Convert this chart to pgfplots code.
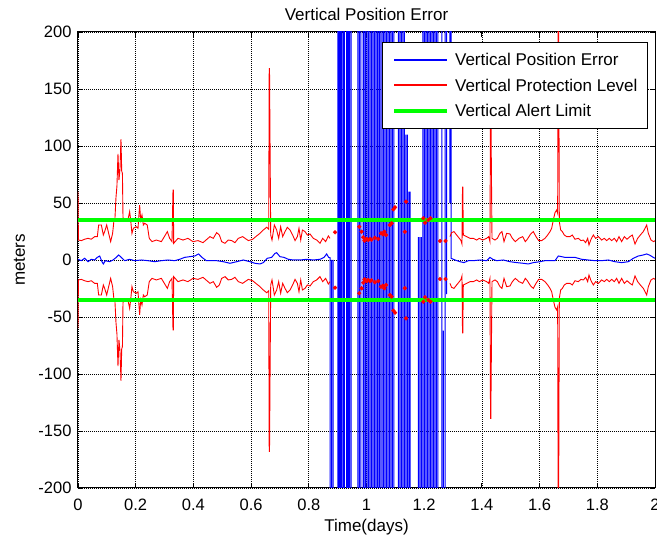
\documentclass[border=0pt]{standalone}
\usepackage{fontspec}
\setmainfont{Liberation Sans}
\usepackage{pgfplots}
\pgfplotsset{compat=1.18}
\usepackage{pgfplotstable}
\definecolor{mblue}{RGB}{0,0,255}
\definecolor{mred}{RGB}{255,0,0}
\definecolor{mgreen}{RGB}{0,255,0}

\pgfplotstableread{
x y
0 0.6
0.0116 -0.6
0.023 1.5
0.0347 -1.5
0.046 0.6
0.0578 0
0.067 2.3
0.0751 3.5
0.0832 -1.5
0.0878 -3.5
0.0947 -0.6
0.1098 -1.5
0.1213 0
0.1329 2.3
0.141 4.4
0.150 2.3
0.1618 -0.6
0.179 0.6
0.1964 -0.6
0.2195 0
0.2426 -0.6
0.2657 -1.5
0.2889 -0.6
0.312 0
0.335 -0.6
0.3524 0.6
0.3697 2.3
0.387 2.9
0.4044 3.5
0.4183 5.3
0.4298 2.3
0.4448 -0.6
0.462 -0.6
0.4806 -0.6
0.5037 -1.5
0.5268 -2.9
0.55 -1.5
0.573 0
0.5961 -1.5
0.6135 -2.9
0.6308 -3.5
0.6424 -2.3
0.6562 1.5
0.6713 2.3
0.6828 5.8
0.6886 6.4
0.7001 2.9
0.714 2.3
0.729 0.6
0.7464 0
0.7695 0
0.7926 0.6
0.8157 0
0.8388 0.6
0.8527 2.3
0.8619 5.3
0.8688 2.3
0.8735 2
0.8735 -1000
0.8787 -1000
0.8787 0
0.8787 -1000
0.8839 -1000
0.8839 0
0.8839 -1000
0.9012 -1000
0.9012 1000
0.9047 1000
0.9047 -1000
0.9081 -1000
0.9081 1000
0.9116 1000
0.9116 -1000
0.9151 -1000
0.9151 1000
0.9203 1000
0.9203 -1000
0.9237 -1000
0.9237 1000
0.9307 1000
0.9307 -1000
0.9341 -1000
0.9341 1000
0.9376 1000
0.9376 -1000
0.9411 -1000
0.9411 1000
0.9463 1000
0.9463 -1000
0.9705 -1000
0.9705 1000
0.9757 1000
0.9757 -1000
0.9809 -1000
0.9809 1000
0.9879 1000
0.9879 -1000
0.9913 -1000
0.9913 1000
0.9965 1000
0.9965 -1000
1.0017 -1000
1.0017 1000
1.0069 1000
1.0069 -1000
1.0121 -1000
1.0121 1000
1.0173 1000
1.0173 -1000
1.0225 -1000
1.0225 1000
1.0277 1000
1.0277 -1000
1.0329 -1000
1.0329 1000
1.0381 1000
1.0381 -1000
1.0433 -1000
1.0433 1000
1.0468 1000
1.0468 -1000
1.0537 -1000
1.0537 1000
1.0589 1000
1.0589 -1000
1.0641 -1000
1.0641 1000
1.0693 1000
1.0693 -1000
1.0745 -1000
1.0745 1000
1.0797 1000
1.0797 -1000
1.0849 -1000
1.0849 1000
1.0901 1000
1.0901 -1000
1.0953 -1000
1.0953 1000
1.1109 1000
1.1109 -1000
1.1161 -1000
1.1161 1000
1.1213 1000
1.1213 -1000
1.1265 -1000
1.1265 1000
1.1317 1000
1.1317 -1000
1.1369 -1000
1.1369 110
1.1369 -1000
1.1421 -1000
1.1421 110
1.1421 -1000
1.1473 -1000
1.1473 60
1.1473 -1000
1.1508 -1000
1.1508 60
1.1508 -1000
1.1802 -1000
1.1802 20
1.1802 -1000
1.1854 -1000
1.1854 20
1.1854 -1000
1.1906 -1000
1.1906 20
1.1906 -1000
1.1958 -1000
1.1958 1000
1.2010 1000
1.2010 -1000
1.2062 -1000
1.2062 1000
1.2114 1000
1.2114 -1000
1.2166 -1000
1.2166 1000
1.2218 1000
1.2218 -1000
1.2270 -1000
1.2270 1000
1.2322 1000
1.2322 -1000
1.2374 -1000
1.2374 1000
1.2426 1000
1.2426 -1000
1.2478 -1000
1.2478 1000
1.2617 1000
1.2617 -1000
1.2669 -1000
1.2669 -62
1.2669 -1000
1.2721 -1000
1.2721 1000
1.2773 1000
1.2773 -30
1.2773 1000
1.2894 1000
1.2894 50
1.2894 1000
1.2929 1000
1.2929 1.5
1.3068 0
1.3241 -1.5
1.338 -2.3
1.353 -0.6
1.3703 -0.6
1.3935 0
1.4165 -0.6
1.428 2.3
1.4374 0.6
1.4512 -0.6
1.4743 0
1.4974 -1.5
1.5205 -2.3
1.5437 -2.9
1.561 -3.5
1.5783 -2.3
1.6014 -1.5
1.6187 -0.6
1.6534 -0.6
1.665 3.5
1.688 2.3
1.7227 2.3
1.7458 0.6
1.769 0
1.792 -0.6
1.8151 -0.6
1.8383 0
1.8613 -1.5
1.8844 -2.3
1.9076 -1.5
1.9249 1.5
1.9423 3.5
1.9595 4.4
1.9711 5.3
1.9827 4.1
1.9942 2.3
2.0 1.5
}\vpe

\pgfplotstableread{
x y
0 60
0.0015 17.5
0.0116 17.0
0.023 18.2
0.0347 19.0
0.046 18.2
0.0578 20.5
0.067 20.5
0.0716 30.7
0.081 30.7
0.0878 21.9
0.0924 24.9
0.0994 30.7
0.1063 23.4
0.1132 16.1
0.120 23.4
0.1248 35.1
0.128 36
0.1317 55
0.135 65
0.1386 93
0.142 70
0.1456 80
0.149 106
0.1515 78
0.154 76
0.156 37
0.165 35.5
0.173 35
0.179 42.4
0.1826 35
0.187 23.4
0.192 27.8
0.202 29.2
0.208 27.8
0.2137 48.2
0.2172 35
0.2218 39.5
0.2265 30.7
0.231 32.2
0.240 30.7
0.247 19
0.2565 16.1
0.2715 17.5
0.289 16.1
0.3027 21.9
0.3097 24.9
0.3177 19
0.3258 16.1
0.3293 61.4
0.3305 61.4
0.3316 14.6
0.3466 19
0.364 17.5
0.381 19
0.3986 16.1
0.416 17
0.4333 15.2
0.4506 19
0.4575 20.5
0.469 19
0.4806 24
0.49 21.9
0.498 16.1
0.5096 14.6
0.521 17.5
0.5327 17
0.544 15.2
0.5558 19
0.5708 20.5
0.579 19
0.5905 17
0.6054 18.2
0.6193 21.1
0.6309 23.4
0.6424 26.3
0.654 28.7
0.661 27
0.6628 168
0.6638 168
0.668 21.9
0.6725 17.5
0.6806 30.7
0.6886 26.3
0.6956 19
0.7025 29.2
0.7095 20.5
0.7176 24.9
0.7256 28.7
0.7349 26.3
0.744 21.9
0.7523 17
0.7604 20.5
0.766 27.8
0.772 17.5
0.778 26.3
0.7869 24.9
0.795 21.9
0.8042 22.8
0.8157 19
0.8273 17.5
0.8388 14.6
0.8481 19
0.8585 16.1
0.8677 21.1
0.8735 19
}\vplA

\pgfplotstableread{
x y
1.2894 20.5
1.295 24
1.3033 24.9
1.3125 21.9
1.3218 19
1.3276 17
1.331 14
1.3328 64
1.3338 64
1.3356 21.9
1.3472 20.5
1.3588 19
1.3703 19
1.382 17.5
1.391 19
1.4027 17.5
1.4165 19
1.4234 20.5
1.428 16.1
1.4299 139
1.4309 139
1.435 19
1.4454 17.5
1.4535 19
1.4627 23.4
1.4696 24.9
1.4766 16.1
1.4858 23.4
1.4974 22.8
1.5055 19
1.5159 16.1
1.5286 19
1.5413 20.5
1.5505 16.1
1.5575 18.2
1.569 22.8
1.5783 24.9
1.5875 20.5
1.5968 17
1.6072 17
1.6187 19
1.628 21.9
1.636 24.9
1.6418 27.8
1.6476 35.1
1.6534 41.5
1.6592 43.9
1.6626 41
1.6645 250
1.6655 250
1.6684 33.6
1.673 26.3
1.6788 24.9
1.6857 21.9
1.6938 20.5
1.7054 20.5
1.7134 21.9
1.7227 18.2
1.7342 19
1.7435 17
1.7516 17.5
1.7597 15.2
1.7666 19
1.7712 13.2
1.7782 18.2
1.7862 21.9
1.7943 19
1.8036 20.5
1.8151 17.5
1.8244 19
1.8325 17
1.8417 19
1.8498 17
1.859 19
1.8671 16.1
1.8752 20.5
1.8844 16.1
1.8937 20.5
1.9029 18.2
1.9133 20.5
1.9214 21.9
1.9307 14
1.9399 19
1.9491 21.9
1.9595 24.9
1.9653 27.8
1.9711 30.7
1.9769 23.4
1.9861 17.5
1.9954 16.1
2.0 17
}\vplB

\pgfplotstableread{
x y
0.891 24.3
0.975 29.2
0.983 24.8
0.989 19.9
0.993 17
0.997 17.8
1.001 18.5
1.006 17.5
1.012 18.5
1.017 17.8
1.029 19.5
1.041 18.5
1.050 23.4
1.057 22.5
1.062 24.8
1.068 21.9
1.081 30.7
1.087 32.2
1.093 44.4
1.099 46.2
1.133 24.8
1.137 51.2
1.197 36.6
1.203 32.7
1.214 35.1
1.222 36.6
1.255 16.7
1.274 16.7
}\vpldots

\begin{document}
\begin{tikzpicture}
\begin{axis}[
  scale only axis, width=577pt, height=456pt,
  xmin=0, xmax=2, ymin=-200, ymax=200,
  xtick={0,0.2,0.4,0.6,0.8,1,1.2,1.4,1.6,1.8,2},
  xticklabels={0,0.2,0.4,0.6,0.8,1,1.2,1.4,1.6,1.8,2},
  ytick={-200,-150,-100,-50,0,50,100,150,200},
  yticklabels={-200,-150,-100,-50,0,50,100,150,200},
  tick align=inside, tick pos=both,
  major tick length=5pt,
  tick style={black, line width=0.8pt},
  grid=major,
  major grid style={black, line width=0.7pt, dash pattern=on 0.8pt off 1.2pt},
  axis line style={black, line width=1pt},
  tick label style={font=\fontsize{16.5}{16.5}\selectfont},
  xticklabel style={anchor=base, yshift=-22.7pt},
  yticklabel style={anchor=east, inner sep=0pt, xshift=-6.3pt},
  title={Vertical Position Error},
  title style={at={(axis description cs:0.5,1)}, anchor=base, yshift=5pt, font=\fontsize{17}{17}\selectfont},
  xlabel={Time(days)},
  xlabel style={at={(axis description cs:0.5,0)}, anchor=base, yshift=-44pt, font=\fontsize{17}{17}\selectfont},
  ylabel={meters},
  ylabel style={at={(axis description cs:-0.0919,0.5)}, anchor=base, font=\fontsize{17}{17}\selectfont},
  legend cell align=left,
  legend style={at={(axis description cs:1,1)}, anchor=north east, xshift=-7pt, yshift=-10pt,
    draw=black, line width=1pt, fill=white, inner xsep=10pt, inner ysep=10.8pt,
    row sep=11.6pt, column sep=6pt, font=\fontsize{17}{17}\selectfont,
    nodes={inner sep=0pt}},
]
\addplot[mblue, line width=1pt,
  legend image code/.code={\draw[draw=mblue, line width=1.4pt] (0pt,0pt) -- (53pt,0pt);}] table {\vpe};
\addlegendentry{Vertical Position Error}
\addplot[mred, line width=0.9pt,
  legend image code/.code={\draw[draw=mred, line width=1.8pt] (0pt,0.3pt) -- (53pt,0.3pt);}] table {\vplA};
\addlegendentry{Vertical Protection Level}
\addplot[mred, line width=0.9pt, forget plot] table[y expr=-\thisrow{y}] {\vplA};
\addplot[mred, line width=0.9pt, forget plot] table {\vplB};
\addplot[mred, line width=0.9pt, forget plot] table[y expr=-\thisrow{y}] {\vplB};
\addplot[mred, only marks, mark=*, mark size=1.9pt, forget plot] table {\vpldots};
\addplot[mred, only marks, mark=*, mark size=1.9pt, forget plot] table[y expr=-\thisrow{y}] {\vpldots};
\addplot[mgreen, line width=3.8pt,
  legend image code/.code={\draw[draw=mgreen, line width=3.8pt] (0pt,0pt) -- (53pt,0pt);}] coordinates {(0,35) (2,35)};
\addlegendentry{Vertical Alert Limit}
\addplot[mgreen, line width=3.8pt, forget plot] coordinates {(0,-35) (2,-35)};
\end{axis}
\pgfresetboundingbox
\path[use as bounding box] (-78pt,-54pt) rectangle (579pt,488pt);
\end{tikzpicture}
\end{document}
